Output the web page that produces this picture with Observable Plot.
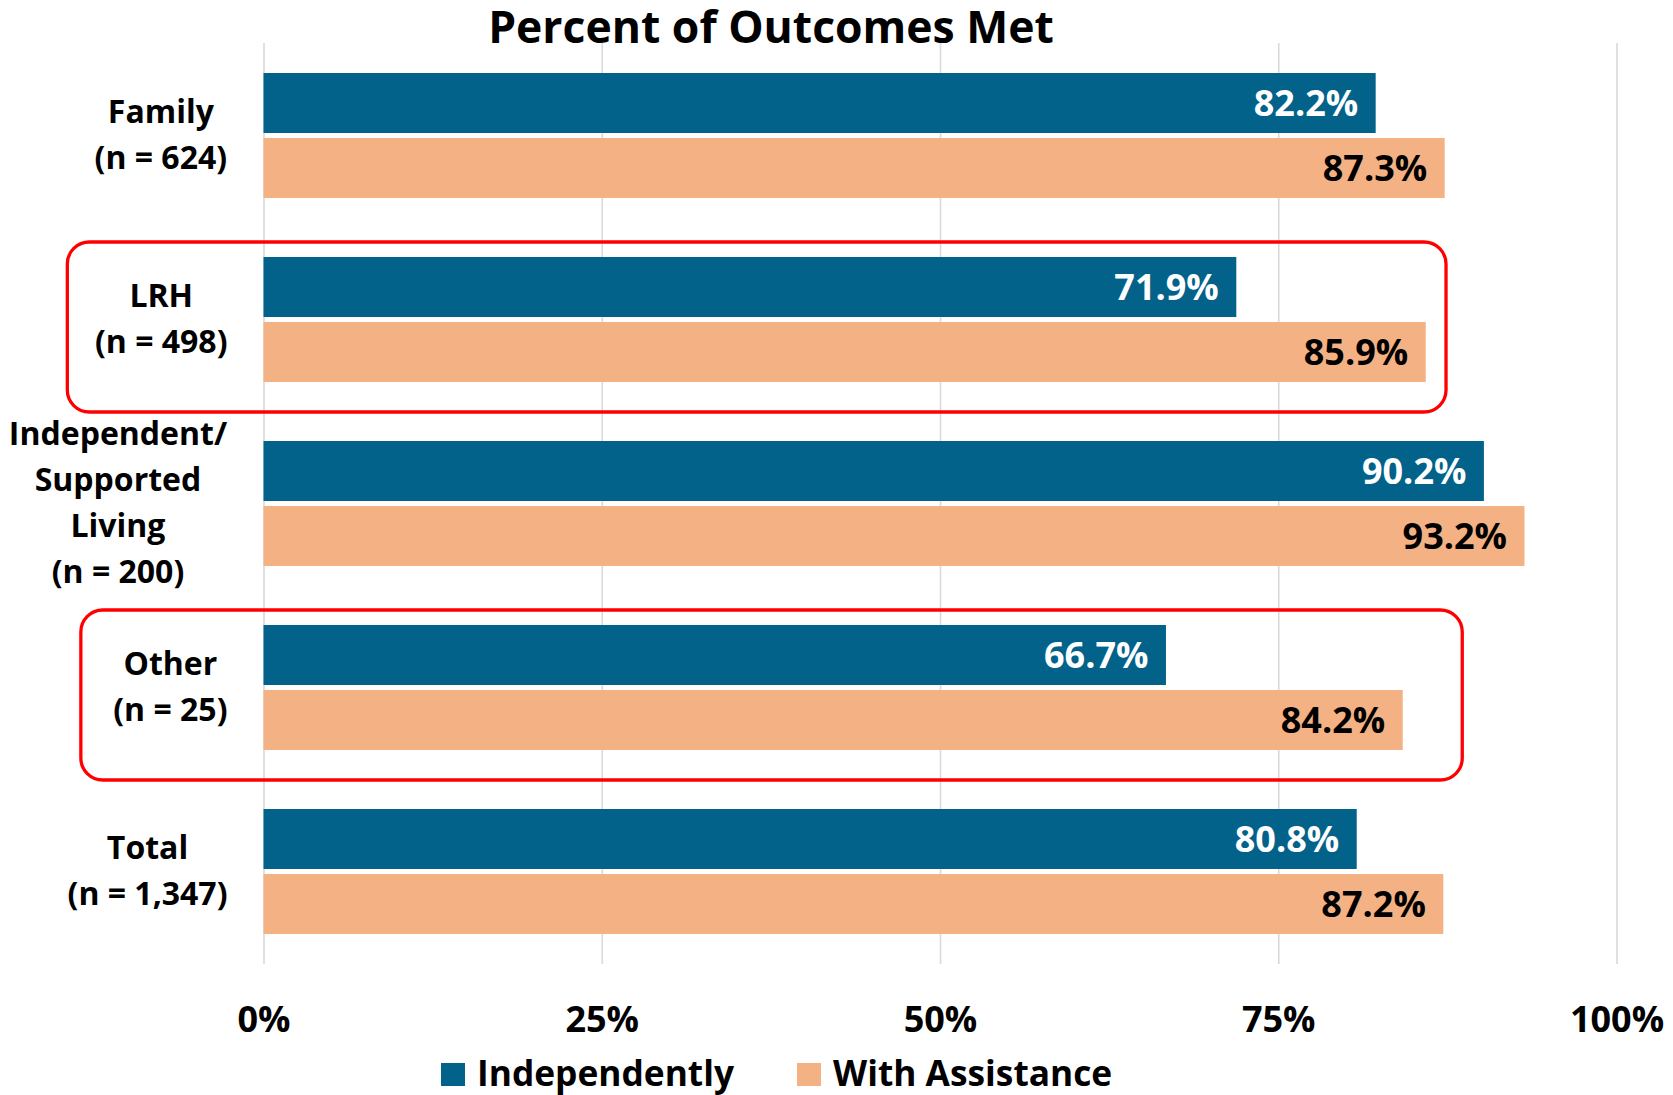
<!DOCTYPE html>
<html><head><meta charset="utf-8">
<script src="https://cdn.jsdelivr.net/npm/d3@7"></script>
<script src="https://cdn.jsdelivr.net/npm/@observablehq/plot@0.6"></script>
<style>
body{margin:0;background:#fff;font-family:"Open Sans",sans-serif;font-weight:700;color:#000;}
#wrap{position:relative;width:1673px;height:1095px;overflow:hidden;background:#fff;}
#title{position:absolute;left:0;top:4px;width:1542px;text-align:center;font-size:44.5px;line-height:44px;color:#000;}
#legend{display:flex;align-items:center;height:40px;line-height:40px;padding-top:1.5px;padding-left:441px;font-size:35.3px;}
.item{display:flex;align-items:center;margin-right:63px;}
.sw{width:24px;height:23px;margin-right:12px;position:relative;top:3px;}
</style></head>
<body><div id="wrap"><div id="chart"></div><div id="legend"></div><div id="title">Percent of Outcomes Met</div></div>
<script>
const categories = ["Family\n(n = 624)", "LRH\n(n = 498)", "Independent/\nSupported\nLiving\n(n = 200)", "Other\n(n = 25)", "Total\n(n = 1,347)"];
const seriesNames = ["Independently", "With Assistance"];
const independently = [0.822, 0.719, 0.902, 0.667, 0.808];
const withAssistance = [0.873, 0.859, 0.932, 0.842, 0.872];
const xTicks = [0, 0.25, 0.5, 0.75, 1];
const highlighted = ["LRH\n(n = 498)", "Other\n(n = 25)"];
const colors = ["#03628A", "#F4B183"];

const rows = categories.flatMap((c, i) => [
  {cat: c, series: seriesNames[0], value: independently[i]},
  {cat: c, series: seriesNames[1], value: withAssistance[i]}
]);
const indep = rows.filter(d => d.series === seriesNames[0]);
const assist = rows.filter(d => d.series === seriesNames[1]);
const fmt = d3.format(".1%");
// annotation boxes (extend into the label margin)
const boxes = [
  {cat: highlighted[0], x1: -0.145, x2: 0.874},
  {cat: highlighted[1], x1: -0.135, x2: 0.886}
];

const chart = Plot.plot({
  width: 1673, height: 1050,
  marginTop: 43, marginBottom: 86, marginLeft: 263.5, marginRight: 56.5,
  style: {fontFamily: '"Open Sans", sans-serif', fontWeight: 700, color: "#000", background: "#fff", overflow: "visible"},
  x: {domain: [0, 1]},
  y: {domain: categories, paddingInner: 0.322, paddingOuter: 0.163},
  marks: [
    Plot.ruleX(xTicks, {stroke: "#d9d9d9", strokeWidth: 1.6}),
    Plot.barX(indep, {x: "value", y: "cat", fill: colors[0], insetBottom: 65}),
    Plot.barX(assist, {x: "value", y: "cat", fill: colors[1], insetTop: 65}),
    Plot.text(indep, {x: "value", y: "cat", text: d => fmt(d.value), textAnchor: "end", dx: -18, dy: -31.5, fill: "#fff", fontSize: 36}),
    Plot.text(assist, {x: "value", y: "cat", text: d => fmt(d.value), textAnchor: "end", dx: -18, dy: 33.5, fill: "#000", fontSize: 36}),
    Plot.barX(boxes, {x1: "x1", x2: "x2", y: "cat", fill: "none", stroke: "#ff0000", strokeWidth: 3.3, rx: 22, insetTop: -15, insetBottom: -30}),
    Plot.axisX({anchor: "bottom", ticks: xTicks, tickFormat: d3.format(".0%"), tickSize: 0, tickPadding: 42, fontSize: 36, label: null}),
    Plot.axisY({anchor: "left", tickSize: 0, tickPadding: 36.5, fontSize: 32, lineHeight: 1.435, dy: -5, label: null})
  ]
});
document.getElementById("chart").append(chart);

// center the lines of each category label within its right-aligned block
const yg = chart.querySelector('g[aria-label="y-axis tick label"]');
if (yg) {
  yg.querySelectorAll("text").forEach(t => {
    const w = t.getBBox().width;
    t.setAttribute("text-anchor", "middle");
    t.setAttribute("transform", (t.getAttribute("transform") || "") + ` translate(${-w / 2},0)`);
  });
}

const legend = d3.select("#legend");
seriesNames.forEach((s, i) => {
  const item = legend.append("div").attr("class", "item");
  item.append("div").attr("class", "sw").style("background", colors[i]);
  item.append("span").text(s);
});
</script>
</body></html>
